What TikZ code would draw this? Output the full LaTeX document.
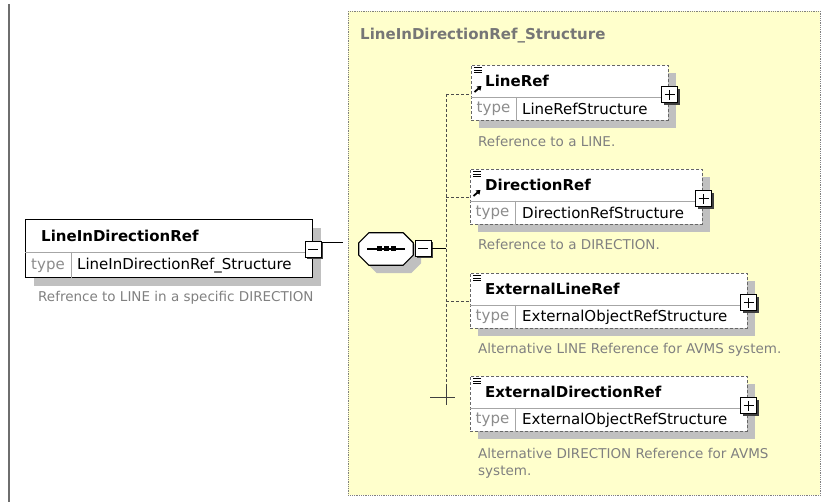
\documentclass[tikz,border=0pt]{standalone}
\usepackage{fontspec}
\setmainfont{DejaVu Sans}
\usepackage{xcolor}
\usetikzlibrary{shadows, arrows.meta, positioning}

\definecolor{groupfill}{RGB}{255,255,204}
\definecolor{shadowgray}{RGB}{192,192,192}
\definecolor{descgray}{RGB}{128,128,128}
\definecolor{typegray}{RGB}{140,140,140}
\definecolor{titlegray}{RGB}{118,118,118}
\definecolor{bargray}{RGB}{110,110,110}

\tikzset{
  menuicon/.pic={\draw[line width=0.9pt] (0,0) -- (8,0) (0,2.6) -- (8,2.6) (0,5.2) -- (8,5.2);},
  refarrow/.pic={\draw[line width=1.8pt, -{Triangle[length=4pt,width=5.5pt]}] (0,0) -- (7,-6);}
}

\begin{document}
\begin{tikzpicture}[x=1pt, y=-1pt,
  groupbox/.style={draw=gray, densely dotted, line width=0.8pt, fill=groupfill, anchor=north west, inner sep=0pt},
  boxshadow/.style={drop shadow={shadow xshift=8pt, shadow yshift=-8pt, fill=shadowgray, opacity=1}},
  elbox/.style={draw=black, line width=1.2pt, fill=white, anchor=north west, inner sep=0pt, boxshadow},
  optbox/.style={draw=gray!80!black, densely dashed, line width=0.7pt, fill=white, anchor=north west, inner sep=0pt, boxshadow},
  divider/.style={draw=gray!70, line width=0.8pt},
  elname/.style={font=\fontsize{15}{18}\selectfont\bfseries, anchor=base west, inner sep=0pt},
  typelbl/.style={font=\fontsize{15}{18}\selectfont, text=typegray, inner sep=0pt},
  typeval/.style={font=\fontsize{15}{18}\selectfont, anchor=west, inner sep=0pt},
  desc/.style={font=\fontsize{13.5}{17.5}\selectfont, text=descgray, anchor=base west, inner sep=0pt, align=left},
  pmbox/.style={draw=black, line width=1pt, fill=white, minimum size=16pt, inner sep=0pt,
    drop shadow={shadow xshift=2pt, shadow yshift=-2pt, fill=black!75, opacity=1}},
  plusbox/.style={pmbox, path picture={\draw[line width=1pt]
    ([xshift=3pt]path picture bounding box.west) -- ([xshift=-3pt]path picture bounding box.east)
    ([yshift=-3pt]path picture bounding box.north) -- ([yshift=3pt]path picture bounding box.south);}},
  minusbox/.style={pmbox, path picture={\draw[line width=1pt]
    ([xshift=3pt]path picture bounding box.west) -- ([xshift=-3pt]path picture bounding box.east);}},
  seqbox/.style={minimum width=54pt, minimum height=32pt, inner sep=0pt},
  seqline/.style={draw=black, line width=1.2pt, fill=white, line join=round,
    drop shadow={shadow xshift=8pt, shadow yshift=-8pt, fill=shadowgray, opacity=1}},
  conn/.style={draw=black, line width=0.8pt},
  branch/.style={draw=gray!60!black, densely dashed, line width=0.6pt}
]
  \useasboundingbox (0,0) rectangle (823,502);
  \draw[bargray, line width=1.4pt] (9,4) -- (9,502);

  % Structure group
  \node[groupbox, minimum width=472pt, minimum height=484pt] (struct) at (348,11) {};
  \node[elname, text=titlegray] (structname) at (360,40) {LineInDirectionRef\_Structure};

  % Top element
  \node[elbox, minimum width=287pt, minimum height=58pt] (lidref) at (25,219) {};
  \draw[divider] ([yshift=-33pt]lidref.north west) -- ([yshift=-33pt]lidref.north east);
  \draw[divider] ([xshift=46pt, yshift=-33pt]lidref.north west) -- ([xshift=46pt]lidref.south west);
  \node[elname] (lidrefname) at ([xshift=16pt, yshift=-22.5pt]lidref.north west) {LineInDirectionRef};
  \node[typelbl] (lidreftype) at ([xshift=23pt, yshift=12.5pt]lidref.south west) {type};
  \node[typeval] (lidrefval) at ([xshift=52pt, yshift=12.5pt]lidref.south west) {LineInDirectionRef\_Structure};
  \node[desc] (lidrefdesc) at ([xshift=13pt, yshift=-23pt]lidref.south west) {Refrence to LINE in a specific DIRECTION};
  \node[minusbox] (mainpm) at (313,249.5) {};

  % Sequence
  \node[seqbox] (seq) at (386,249) {};
  \draw[seqline] ([xshift=10pt]seq.north west) -- ([xshift=-10pt]seq.north east)
    -- ([yshift=-10pt]seq.north east) -- ([yshift=10pt]seq.south east)
    -- ([xshift=-10pt]seq.south east) -- ([xshift=10pt]seq.south west)
    -- ([yshift=10pt]seq.south west) -- ([yshift=-10pt]seq.north west) -- cycle;
  \draw[line width=1.3pt] ([xshift=-19pt]seq.center) -- ([xshift=19pt]seq.center);
  \foreach \dx in {-7,0,7}
    \fill ([xshift=\dx pt]seq.center) +(-2.5,-2.5) rectangle +(2.5,2.5);
  \node[minusbox] (seqpm) at (423,248.5) {};

  \coordinate (seqin) at (343,242);
  \draw[conn] (mainpm.east |- seqin) -- (seqin);

  % Children
  \node[optbox, minimum width=197pt, minimum height=55pt] (lineref) at (471,65) {};
  \node[optbox, minimum width=232pt, minimum height=55pt] (dirref) at (470,169) {};
  \node[optbox, minimum width=277pt, minimum height=55pt] (extline) at (470,273) {};
  \node[optbox, minimum width=277pt, minimum height=55pt] (extdir) at (470,376) {};

  \foreach \el in {lineref, dirref, extline, extdir} {
    \draw[divider] ([yshift=-32pt]\el.north west) -- ([yshift=-32pt]\el.north east);
    \draw[divider] ([xshift=45pt, yshift=-32pt]\el.north west) -- ([xshift=45pt]\el.south west);
    \pic at ([xshift=3pt, yshift=-2.5pt]\el.north west) {menuicon};
    \node[typelbl] (\el-type) at ([xshift=22.5pt, yshift=11.5pt]\el.south west) {type};
    \node[plusbox] (\el-pm) at ([xshift=1pt, yshift=-30pt]\el.north east) {};
  }
  \pic at ([xshift=3.5pt, yshift=-27pt]lineref.north west) {refarrow};
  \pic at ([xshift=3.5pt, yshift=-27pt]dirref.north west) {refarrow};

  \node[elname] (linerefname) at ([xshift=14pt, yshift=-21.5pt]lineref.north west) {LineRef};
  \node[typeval] (linerefval) at ([xshift=51pt, yshift=11.5pt]lineref.south west) {LineRefStructure};
  \node[desc] (linerefdesc) at ([xshift=7pt, yshift=-26pt]lineref.south west) {Reference to a LINE.};

  \node[elname] (dirrefname) at ([xshift=15pt, yshift=-21.5pt]dirref.north west) {DirectionRef};
  \node[typeval] (dirrefval) at ([xshift=52pt, yshift=11.5pt]dirref.south west) {DirectionRefStructure};
  \node[desc] (dirrefdesc) at ([xshift=8pt, yshift=-25pt]dirref.south west) {Reference to a DIRECTION.};

  \node[elname] (extlinename) at ([xshift=15pt, yshift=-21.5pt]extline.north west) {ExternalLineRef};
  \node[typeval] (extlineval) at ([xshift=52pt, yshift=11.5pt]extline.south west) {ExternalObjectRefStructure};
  \node[desc] (extlinedesc) at ([xshift=8pt, yshift=-25pt]extline.south west) {Alternative LINE Reference for AVMS system.};

  \node[elname] (extdirname) at ([xshift=15pt, yshift=-21.5pt]extdir.north west) {ExternalDirectionRef};
  \node[typeval] (extdirval) at ([xshift=52pt, yshift=11.5pt]extdir.south west) {ExternalObjectRefStructure};
  \node[desc] (extdirdesc) at ([xshift=8pt, yshift=-44pt]extdir.south west) {Alternative DIRECTION Reference for AVMS\\system.};

  % Sequence branches
  \coordinate (spinetop) at (446,94);
  \coordinate (dirjoin) at (446,197);
  \coordinate (extjoin) at (446,301);
  \coordinate (spinecross) at (446,397);
  \draw[conn] (seqpm.east) -- (seqpm.east -| spinetop);
  \draw[branch] (spinetop) -- ([yshift=12pt]spinecross);
  \draw[branch] (spinetop) -- (spinetop -| lineref.west);
  \draw[branch] (dirjoin) -- (dirjoin -| dirref.west);
  \draw[branch] (extjoin) -- (extjoin -| extline.west);
  \draw[gray!50!black, line width=0.6pt] ([xshift=-16pt]spinecross) -- ([xshift=9pt]spinecross)
    ([yshift=12pt]spinecross) -- ([yshift=-8pt]spinecross);
\end{tikzpicture}
\end{document}
